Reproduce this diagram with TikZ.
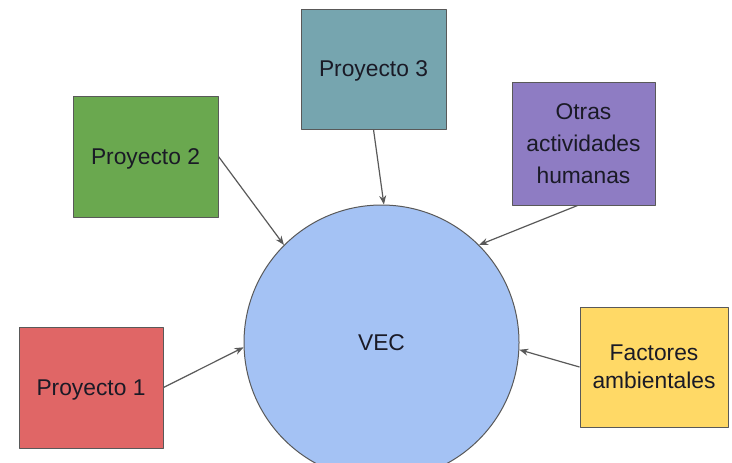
\documentclass[tikz,border=0pt]{standalone}
\usepackage{fontspec}
\setmainfont{Liberation Sans}
\usetikzlibrary{arrows.meta}
\definecolor{rojo}{HTML}{E06666}
\definecolor{verde}{HTML}{6AA84F}
\definecolor{turquesa}{HTML}{76A5AF}
\definecolor{morado}{HTML}{8E7CC3}
\definecolor{amarillo}{HTML}{FFD966}
\definecolor{azul}{HTML}{A4C2F4}
\definecolor{borde}{HTML}{595959}
\definecolor{texto}{HTML}{1A1A26}
\tikzset{
  caja/.style={draw=borde, line width=0.5pt, text=texto, align=center, inner sep=2pt, text depth=0pt},
  flecha/.style={->, draw=borde, line width=0.6pt}
}
\begin{document}
\begin{tikzpicture}[x=0.5pt, y=-0.5pt, font=\fontsize{11.4}{15}\selectfont, line join=round, >={Stealth[length=4.5pt,width=3.5pt]}]
	\useasboundingbox (0,0) rectangle (732,462);
	\clip (0,0) rectangle (732,462);
	% circulo central
	\node[circle, draw=borde, line width=0.5pt, fill=azul, text=texto, text depth=0pt, minimum size=137.5pt, inner sep=0pt] (vec) at (381.5,342.5) {VEC};
	% cajas
	\node[caja, fill=rojo, minimum width=72pt, minimum height=60.5pt] (p1) at (91,387.5) {Proyecto 1};
	\node[caja, fill=verde, minimum width=72.5pt, minimum height=60.5pt] (p2) at (145.5,156.5) {Proyecto 2};
	\node[caja, fill=turquesa, minimum width=72.5pt, minimum height=60pt] (p3) at (373.5,69) {Proyecto 3};
	\node[caja, fill=morado, minimum width=71.5pt, minimum height=61.5pt, font=\fontsize{11.4}{16.2}\selectfont] (otras) at (583.5,143.5) {Otras\\actividades\\humanas};
	\node[caja, fill=amarillo, minimum width=74pt, minimum height=60pt, font=\fontsize{11.4}{14}\selectfont] (fact) at (654,367) {Factores\\ambientales};
	% flechas
	\draw[flecha] (p1.east) -- (vec.182);
	\draw[flecha] (p2.east) -- (vec.135);
	\draw[flecha] (p3.south) -- (vec.89);
	\draw[flecha] ([xshift=-3pt]otras.south) -- (vec.45);
	\draw[flecha] (fact.west) -- (vec.357);
\end{tikzpicture}
\end{document}
